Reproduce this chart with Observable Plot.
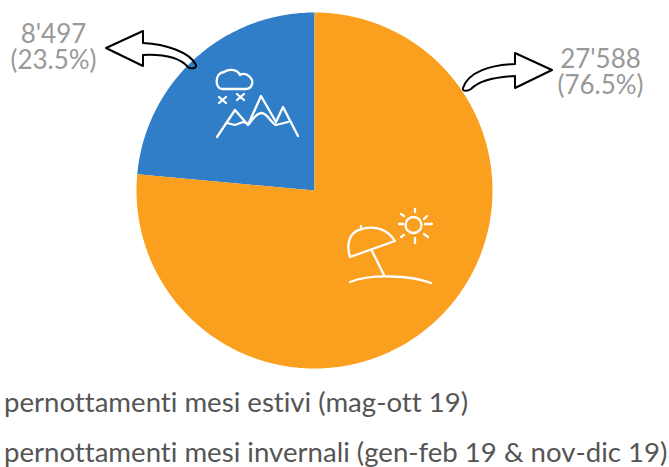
<!DOCTYPE html>
<html><head><meta charset="utf-8">
<script src="https://cdn.jsdelivr.net/npm/d3@7"></script>
<script src="https://cdn.jsdelivr.net/npm/@observablehq/plot@0.6"></script>
<style>
html,body{margin:0;padding:0;background:#fff;overflow:hidden}
#legend{font-family:Lato,sans-serif;font-size:27.6px;color:#555;margin:0;font-variant-ligatures:none}
#legend div{position:absolute;left:4px;white-space:nowrap;line-height:30px}
</style></head><body>
<div id="chart"></div><div id="legend"></div>
<script>
const categories = ["pernottamenti mesi invernali (gen-feb 19 & nov-dic 19)", "pernottamenti mesi estivi (mag-ott 19)"];
const values = [8497, 27588];
const colors = ["#2f7ec7", "#fb9f1e"];
const valueLabels = ["8'497", "27'588"];
const shareLabels = ["(23.5%)", "(76.5%)"];
const legendOrder = [categories[1], categories[0]];

const W = 669, H = 380, cx = 314, cy = 190, R = 178;
const total = d3.sum(values);
const pie = d3.pie().sort(null).startAngle(-2*Math.PI*values[0]/total).endAngle(2*Math.PI - 2*Math.PI*values[0]/total)(values);
const sliceRows = pie.flatMap((s, i) => {
  const n = Math.ceil((s.endAngle - s.startAngle) * 60);
  const rows = [{k: i, x: cx, y: cy}];
  for (let j = 0; j <= n; j++) {
    const a = s.startAngle + (s.endAngle - s.startAngle) * j / n;
    rows.push({k: i, x: cx + R*Math.sin(a), y: cy - R*Math.cos(a)});
  }
  rows.push({k: i, x: cx, y: cy});
  return rows;
});

const labelRows = [
  {t: valueLabels[0] + "\n" + shareLabels[0], x: 53, y: 47},
  {t: valueLabels[1] + "\n" + shareLabels[1], x: 600, y: 72}
];

const arrows = [
  "M106,48 L143,31 L143,43 C165,44 190,52 196,65 C197,69 190,69 188,67 C180,58 165,54 143,55 L143,66 Z",
  "M552,70 L515,53 L515,64 C490,65 468,72 463,88 C462,92 468,91 471,89 C480,80 495,77 515,76 L515,88 Z"
];
const icons = [
  "M405.5,225a8,8 0 1,0 16,0a8,8 0 1,0 -16,0",
  "M415,209V212 M399,224H403 M425,224H432 M401,214L404,216 M427,216L424,219 M401,237L404,235 M424,234L428,237 M415,238V243",
  "M350,257 C345,240 352,231 362,229 C376,225 388,230 395,241 Z M361,228 L361,226",
  "M372,251 L384,275 M350,282 C370,274 410,275 431,283",
  "M222,89 C215,89 214,73 224,72 C230,68 238,70 240,75 C247,71 254,80 252,84 C251,88 249,89 246,89 Z",
  "M219,97L226,103 M226,97L219,103 M237,94L244,100 M244,94L237,100",
  "M217,137 L235,110 L248,125 L261,96 L276,122 L283,107 L298,136",
  "M227,123 L235,125 L243,122 L249,124 C253,118 258,113 262,113 C268,114 270,122 276,125 L288,122"
];

const svgPathMark = (paths, attrs) => () => {
  const g = d3.create("svg:g");
  for (const d of paths) {
    const p = g.append("path").attr("d", d);
    for (const [k, v] of Object.entries(attrs)) p.attr(k, v);
  }
  return g.node();
};

const plot = Plot.plot({
  width: W, height: H,
  margin: 0,
  x: {domain: [0, W], range: [0, W], axis: null},
  y: {domain: [0, H], range: [0, H], axis: null},
  style: {background: "#fff", fontFamily: "Lato, sans-serif"},
  marks: [
    pie.map((s, i) => Plot.line(sliceRows.filter(r => r.k === i), {
      x: "x", y: "y", fill: colors[i], stroke: "none"
    })),
    Plot.text(labelRows, {x: "x", y: "y", text: "t", fontSize: 26, lineHeight: 1, fill: "#999", textAnchor: "middle", fontFamily: "Lato, sans-serif"}),
    svgPathMark(arrows, {fill: "#fff", "fill-opacity": 0, stroke: "#000", "stroke-width": 2, "stroke-linejoin": "round"}),
    svgPathMark(icons, {fill: "none", stroke: "#fff", "stroke-width": 2.3, "stroke-linecap": "round", "stroke-linejoin": "round"})
  ]
});
document.getElementById("chart").appendChild(plot);

const tops = [387, 437];
const leg = d3.select("#legend");
legendOrder.forEach((t, i) => leg.append("div").style("top", tops[i] + "px").text(t));
</script>
</body></html>
